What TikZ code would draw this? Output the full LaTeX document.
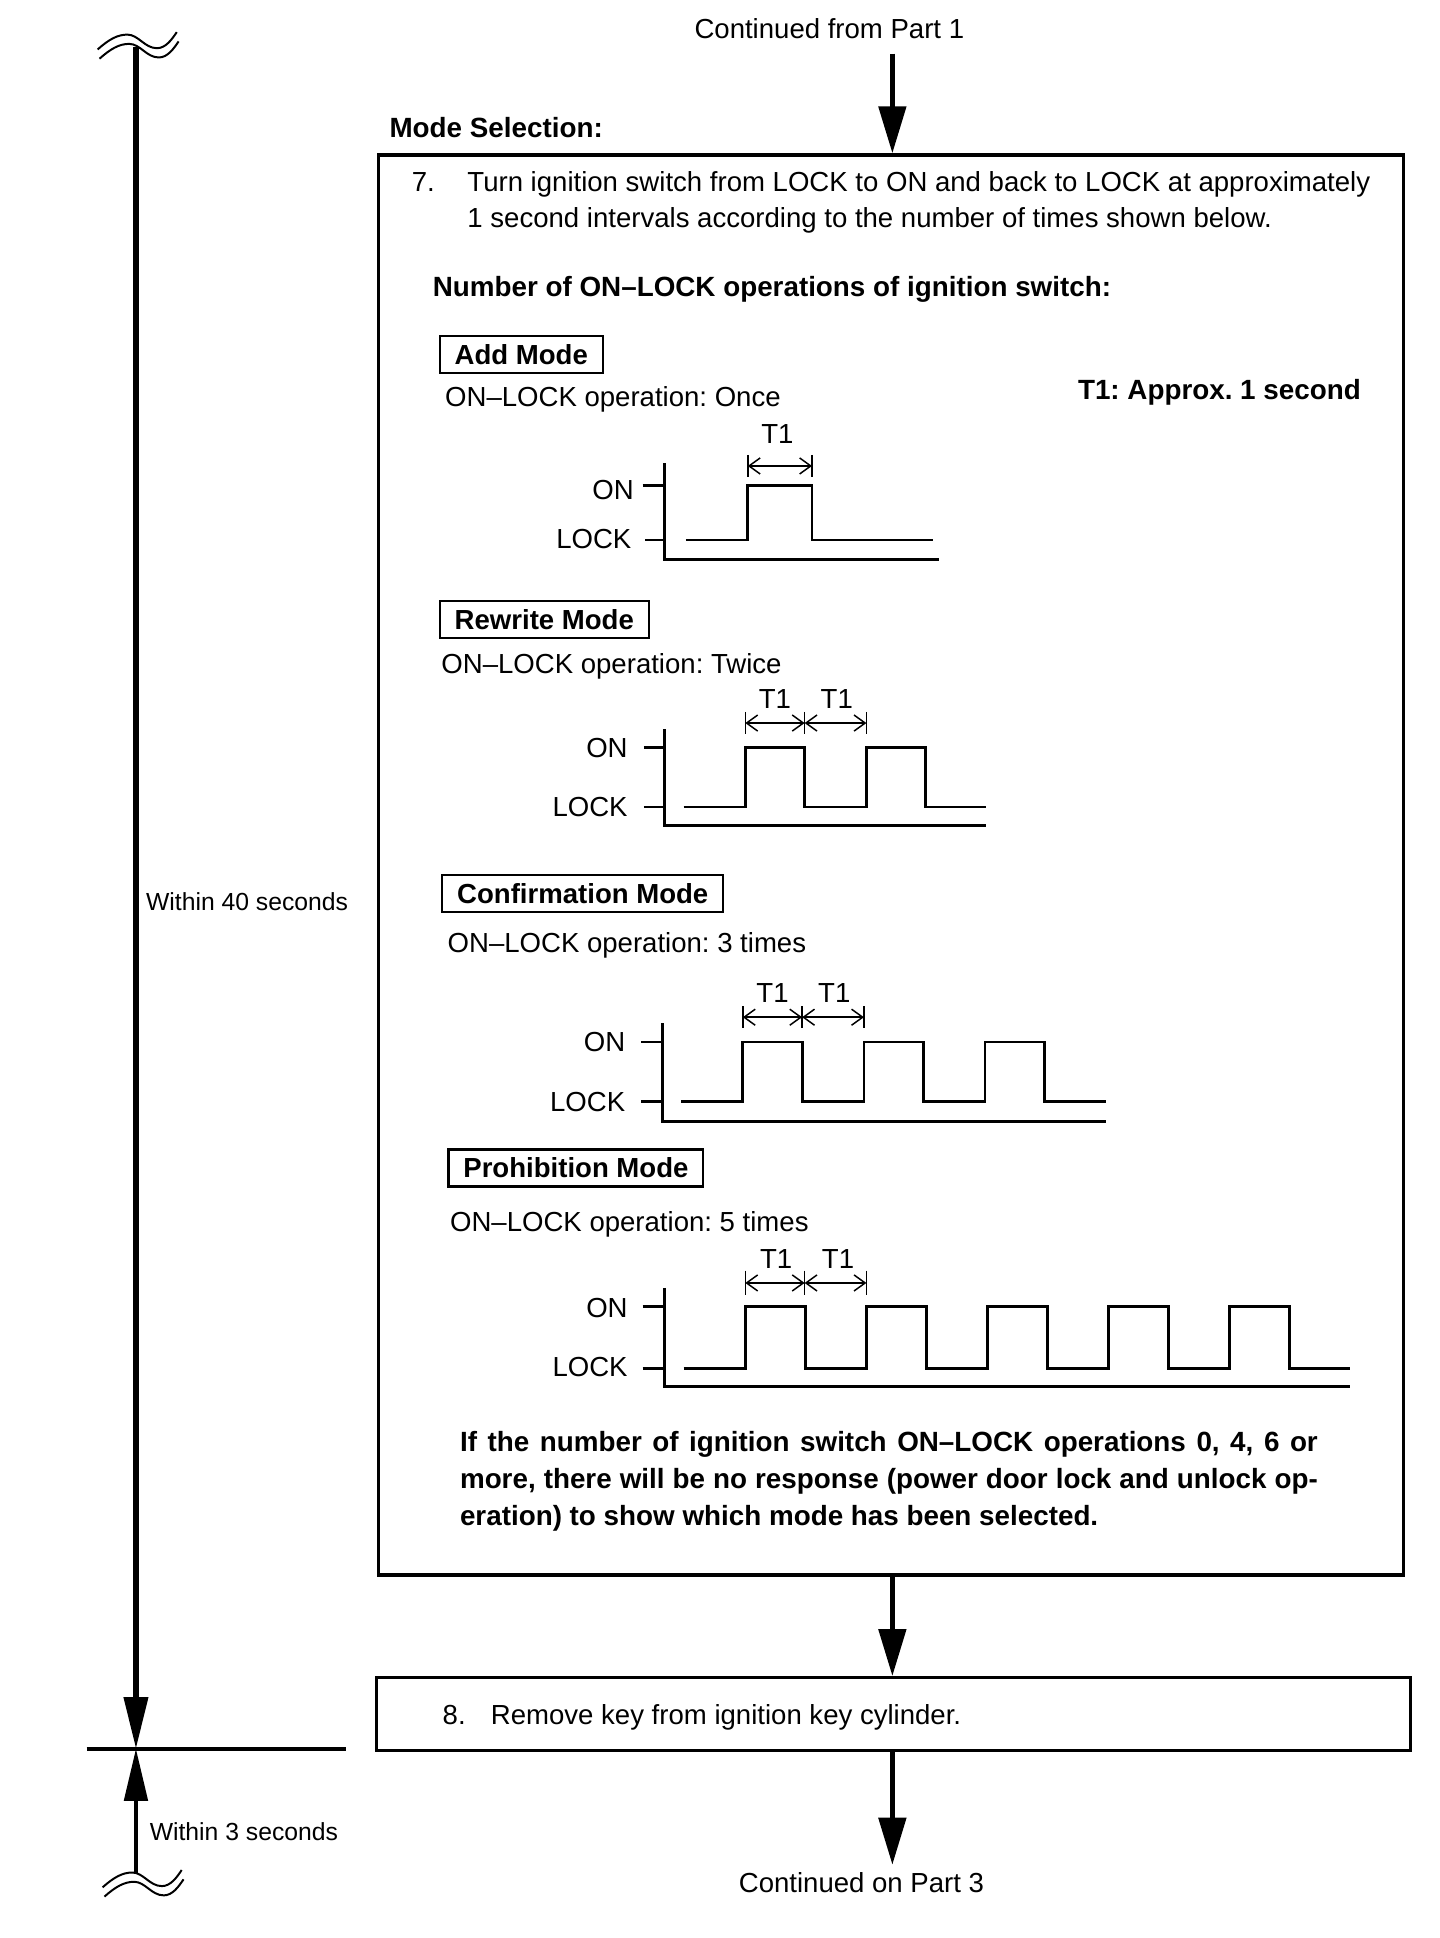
\documentclass[tikz,border=0pt]{standalone}
\usepackage{fontspec}
\setmainfont{Liberation Sans}
\usetikzlibrary{arrows}
\usetikzlibrary{arrows.meta}
\usetikzlibrary{calc}
\usetikzlibrary{positioning}
\frenchspacing

\begin{document}
\begin{tikzpicture}[x=1pt,y=-1pt,
  font=\fontsize{22.3}{30}\selectfont,
  lbl/.style={inner sep=0pt},
  boldlbl/.style={inner sep=0pt,font=\fontsize{22.5}{30}\selectfont\bfseries},
  sidelbl/.style={inner sep=0pt,font=\fontsize{20}{24}\selectfont,anchor=base west},
  stepbox/.style={draw,line width=2.7pt,anchor=north west,inner sep=0pt},
  modebox/.style={draw,line width=1.8pt,font=\fontsize{22.3}{30}\selectfont\bfseries,
    minimum height=30pt,inner xsep=12pt,inner ysep=0pt,anchor=west},
  flow/.style={line width=3.6pt,-{Triangle[length=38pt,width=22pt]}},
  chartaxis/.style={line width=2.4pt},
  signal/.style={line width=2.2pt},
  dimline/.style={line width=1.2pt},
  dimarrow/.style={line width=1.2pt,{Straight Barb[length=9pt,width=13pt]}-{Straight Barb[length=9pt,width=13pt]}},
  breakline/.style={line width=1.6pt}]

\useasboundingbox (0,0) rectangle (1165,1568);

% boites
\node[stepbox,minimum width=829pt,minimum height=1149pt] (step7) at (305,124) {};
\node[stepbox,minimum width=837pt,minimum height=59pt] (step8) at (303,1356) {};

% textes du haut
\node[lbl,anchor=base] (from1) at (671,31) {Continued from Part 1};
\node[boldlbl,anchor=base west] (modesel) at (315,111) {Mode Selection:};
\node[lbl,anchor=base west] (num7) at (333,155) {7.};
\node[lbl,anchor=base west] (text7a) at (378,155) {Turn ignition switch from LOCK to ON and back to LOCK at approximately};
\node[lbl,anchor=base west] (text7b) at (378,184) {1 second intervals according to the number of times shown below.};
\node[boldlbl,anchor=base west] (numops) at (350,240) {Number of ON--LOCK operations of ignition switch:};
\node[boldlbl,anchor=base west] (t1note) at (872,323) {T1: Approx. 1 second};

% Add Mode
\node[modebox] (addmode) at (355,287) {Add Mode};
\node[lbl,anchor=base west] (addops) at (360,329) {ON--LOCK operation: Once};
\node[lbl,anchor=base east] (on1) at (513,404) {ON};
\node[lbl,anchor=base east] (lock1) at (511,444) {LOCK};
\node[lbl,anchor=base] (t1a) at (629,359) {T1};
\draw[chartaxis] (538,375) -- (538,453) -- (760,453);
\draw[signal] (520,393) -- (538,393);
\draw[signal] (522,437) -- (538,437);
\draw[signal] (555,437) -- (605,437) -- (605,393) -- (657,393) -- (657,437) -- (755,437);
\foreach \x in {605,657}
    \draw[dimline] (\x,368) -- (\x,386);
\draw[dimarrow] (605,377) -- (657,377);

% Rewrite Mode
\node[modebox] (rewritemode) at (355,501) {Rewrite Mode};
\node[lbl,anchor=base west] (rewriteops) at (357,545) {ON--LOCK operation: Twice};
\node[lbl,anchor=base east] (on2) at (508,613) {ON};
\node[lbl,anchor=base east] (lock2) at (508,661) {LOCK};
\node[lbl,anchor=base] (t1b) at (627,573) {T1};
\node[lbl,anchor=base] (t1c) at (677,573) {T1};
\draw[chartaxis] (538,590) -- (538,668) -- (798,668);
\draw[signal] (521,605) -- (538,605);
\draw[signal] (521,653) -- (538,653);
\draw[signal] (553,653) foreach \x in {603,701} { -- (\x,653) -- (\x,605) -- (\x+48,605) -- (\x+48,653) } -- (798,653);
\foreach \x in {603,651,701}
    \draw[dimline] (\x,576) -- (\x,594);
\draw[dimarrow] (603,585) -- (651,585);
\draw[dimarrow] (651,585) -- (701,585);

% Confirmation Mode
\node[modebox] (confmode) at (357,723) {Confirmation Mode};
\node[lbl,anchor=base west] (confops) at (362,771) {ON--LOCK operation: 3 times};
\node[lbl,anchor=base east] (on3) at (506,851) {ON};
\node[lbl,anchor=base east] (lock3) at (506,899) {LOCK};
\node[lbl,anchor=base] (t1d) at (625,811) {T1};
\node[lbl,anchor=base] (t1e) at (675,811) {T1};
\draw[chartaxis] (536,828) -- (536,907) -- (895,907);
\draw[signal] (519,843) -- (536,843);
\draw[signal] (519,891) -- (536,891);
\draw[signal] (551,891) foreach \x in {601,699,797} { -- (\x,891) -- (\x,843) -- (\x+48,843) -- (\x+48,891) } -- (895,891);
\foreach \x in {601,649,699}
    \draw[dimline] (\x,814) -- (\x,832);
\draw[dimarrow] (601,823) -- (649,823);
\draw[dimarrow] (649,823) -- (699,823);

% Prohibition Mode
\node[modebox] (prohmode) at (362,945) {Prohibition Mode};
\node[lbl,anchor=base west] (prohops) at (364,996) {ON--LOCK operation: 5 times};
\node[lbl,anchor=base east] (on4) at (508,1066) {ON};
\node[lbl,anchor=base east] (lock4) at (508,1114) {LOCK};
\node[lbl,anchor=base] (t1f) at (628,1026) {T1};
\node[lbl,anchor=base] (t1g) at (678,1026) {T1};
\draw[chartaxis] (538,1042) -- (538,1122) -- (1092,1122);
\draw[signal] (520,1057) -- (538,1057);
\draw[signal] (520,1107) -- (538,1107);
\draw[signal] (553,1107) foreach \x in {603,701,799,897,995} { -- (\x,1107) -- (\x,1057) -- (\x+48.5,1057) -- (\x+48.5,1107) } -- (1092,1107);
\foreach \x in {603,651,701}
    \draw[dimline] (\x,1028) -- (\x,1048);
\draw[dimarrow] (603,1038) -- (651,1038);
\draw[dimarrow] (651,1038) -- (701,1038);

% remarque
\node[boldlbl,anchor=base west] (note1) at (372,1174) {\makebox[694pt][s]{If the number of ignition switch ON--LOCK operations 0, 4, 6 or}};
\node[boldlbl,anchor=base west] (note2) at (372,1204) {\makebox[694pt][s]{more, there will be no response (power door lock and unlock op-}};
\node[boldlbl,anchor=base west] (note3) at (372,1234) {eration) to show which mode has been selected.};

% etape 8
\node[lbl,anchor=base west] (num8) at (358,1395) {8.};
\node[lbl,anchor=base west] (text8) at (397,1395) {Remove key from ignition key cylinder.};
\node[lbl,anchor=base] (to3) at (697,1531) {Continued on Part 3};

% fleches
\coordinate (flowx) at (722,0);
\draw[flow,shorten <=12pt] (flowx |- from1.south) -- (flowx |- step7.north);
\draw[flow] (flowx |- step7.south) -- (flowx |- step8.north);
\draw[flow,shorten >=6pt] (flowx |- step8.south) -- (flowx |- to3.north);

% axe du temps
\coordinate (ttop) at (110,38);
\coordinate (tmid) at (110,1415);
\coordinate (tbot) at (110,1515);
\coordinate (hleft) at (70,1415);
\coordinate (hright) at (280,1415);
\draw[line width=4.6pt,-{Triangle[length=42pt,width=19pt]}] (ttop) -- (tmid);
\draw[line width=2.7pt,-{Triangle[length=42pt,width=19pt]}] (tbot) -- (tmid);
\draw[line width=2.7pt] (hleft) -- (hright);
\node[sidelbl] (within40) at (118,737) {Within 40 seconds};
\node[sidelbl] (within3) at (121,1489) {Within 3 seconds};

% coupures
\foreach \bx/\by in {79/40,83/1527}
    \foreach \d in {0,7.5}
    {
    \draw[breakline,shift={(\bx+\d/5,\by+\d)}] (0,0) .. controls (9,-8) and (16,-12) .. (24,-12)
        .. controls (33,-12) and (38,-1) .. (48,-1) .. controls (55,-1) and (60,-8) .. (64,-14);
    }
\end{tikzpicture}
\end{document}
